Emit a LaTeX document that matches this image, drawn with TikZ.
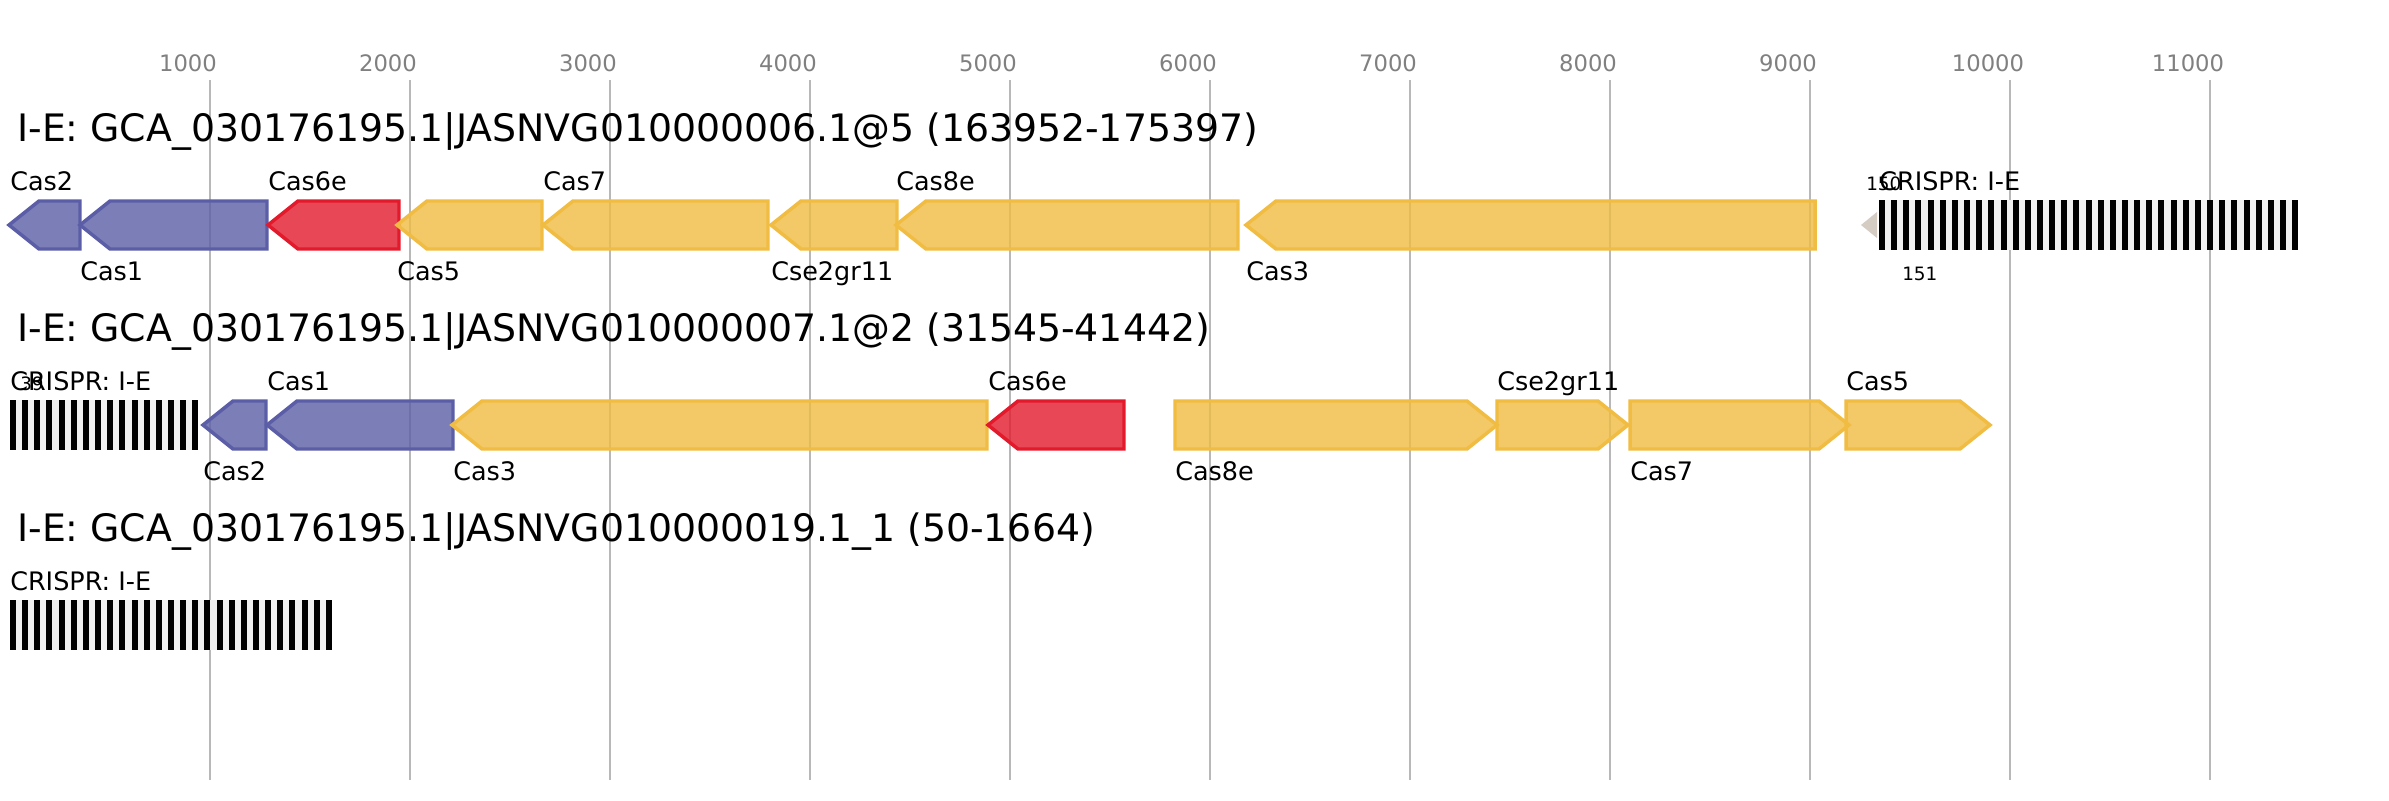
\documentclass[tikz,border=0pt]{standalone}
\usepackage{fontspec}
\setmainfont{DejaVu Sans}
\definecolor{adaptblue}{HTML}{5B5EA6}
\definecolor{casred}{HTML}{E31A2C}
\definecolor{casyellow}{HTML}{F0BC42}
\definecolor{tinygene}{HTML}{D5CCC3}
\definecolor{spacergray}{HTML}{F0F0F0}
\definecolor{gridgray}{HTML}{B8B8B8}
\tikzset{
  gridline/.style={draw=gridgray, line width=1.5pt},
  ticklabel/.style={anchor=base, inner sep=0, text=black!50, font=\fontsize{17}{18}\selectfont},
  locus/.style={anchor=base west, inner sep=0, font=\fontsize{28.35}{30}\selectfont},
  genelabel/.style={anchor=base west, inner sep=0, font=\fontsize{19.1}{20}\selectfont},
  countlabel/.style={anchor=base west, inner sep=0, font=\fontsize{13.8}{15}\selectfont},
  gene/.style={line width=2.6pt, line join=miter, fill opacity=0.8},
  adapt/.style={gene, draw=adaptblue, fill=adaptblue},
  proc/.style={gene, draw=casred, fill=casred},
  inter/.style={gene, draw=casyellow, fill=casyellow},
  spacer/.style={fill=black}
}
\begin{document}
\begin{tikzpicture}[x=0.75pt,y=-0.75pt]
  \useasboundingbox[fill=white] (0,0) rectangle (2389,800);
  % scale
  \foreach \k in {1,...,11}{
    \draw[gridline] (10+200*\k,80) -- (10+200*\k,780);
    \node[ticklabel] (tick\k) at (200*\k-12,71) {\k000};
  }
  % locus 1
  \node[locus] (locusA) at (17,141) {I-E: GCA\_030176195.1|JASNVG010000006.1@5 (163952-175397)};
  \foreach \a/\b/\s in {9/80/adapt, 80/267/adapt, 268/399/proc, 397/542/inter,
      543/768/inter, 771/897/inter, 896/1238/inter, 1246/1815/inter}
    \draw[\s] (\a,225) -- (\a+30,201) -- (\b,201) -- (\b,249) -- (\a+30,249) -- cycle;
  \fill[tinygene] (1861,225) -- (1877,212) -- (1877,238) -- cycle;
  \fill[spacergray] (1879,200) rectangle (2298,250);
  \foreach \i in {0,...,34}
    \fill[spacer] (1879+\i*12.15,200) rectangle ++(6,50);
  \node[genelabel] (a1) at (10,190) {Cas2};
  \node[genelabel] (a2) at (80,280) {Cas1};
  \node[genelabel] (a3) at (268,190) {Cas6e};
  \node[genelabel] (a4) at (397,280) {Cas5};
  \node[genelabel] (a5) at (543,190) {Cas7};
  \node[genelabel] (a6) at (771,280) {Cse2gr11};
  \node[genelabel] (a7) at (896,190) {Cas8e};
  \node[genelabel] (a8) at (1246,280) {Cas3};
  \node[countlabel] (a9) at (1866,190) {150};
  \node[genelabel] (a10) at (1879,190) {CRISPR: I-E};
  \node[countlabel] (a11) at (1902,280) {151};
  % locus 2
  \node[locus] (locusB) at (17,341) {I-E: GCA\_030176195.1|JASNVG010000007.1@2 (31545-41442)};
  \fill[spacergray] (10,400) rectangle (198,450);
  \foreach \i in {0,...,15}
    \fill[spacer] (10+\i*12.15,400) rectangle ++(6,50);
  \foreach \a/\b/\s in {203/266/adapt, 267/453/adapt, 452/987/inter, 988/1124/proc}
    \draw[\s] (\a,425) -- (\a+30,401) -- (\b,401) -- (\b,449) -- (\a+30,449) -- cycle;
  \foreach \a/\b/\s in {1175/1497/inter, 1497/1628/inter, 1630/1849/inter, 1846/1990/inter}
    \draw[\s] (\a,401) -- (\b-30,401) -- (\b,425) -- (\b-30,449) -- (\a,449) -- cycle;
  \node[genelabel] (b1) at (10,390) {CRISPR: I-E};
  \node[countlabel] (b2) at (20,390) {39};
  \node[genelabel] (b3) at (203,480) {Cas2};
  \node[genelabel] (b4) at (267,390) {Cas1};
  \node[genelabel] (b5) at (453,480) {Cas3};
  \node[genelabel] (b6) at (988,390) {Cas6e};
  \node[genelabel] (b7) at (1175,480) {Cas8e};
  \node[genelabel] (b8) at (1497,390) {Cse2gr11};
  \node[genelabel] (b9) at (1630,480) {Cas7};
  \node[genelabel] (b10) at (1846,390) {Cas5};
  % locus 3
  \node[locus] (locusC) at (17,541) {I-E: GCA\_030176195.1|JASNVG010000019.1\_1 (50-1664)};
  \fill[spacergray] (10,600) rectangle (332,650);
  \foreach \i in {0,...,26}
    \fill[spacer] (10+\i*12.15,600) rectangle ++(6,50);
  \node[genelabel] (c1) at (10,590) {CRISPR: I-E};
\end{tikzpicture}
\end{document}
